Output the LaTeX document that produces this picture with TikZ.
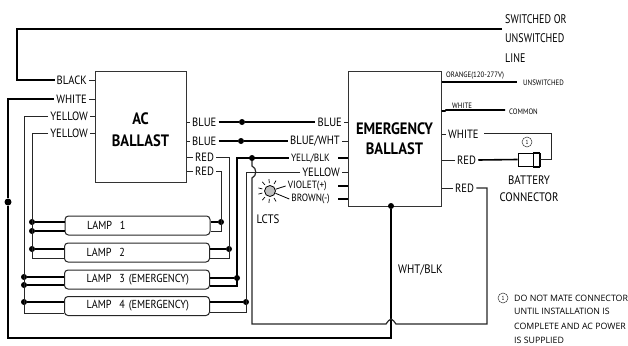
\documentclass[tikz,border=0pt]{standalone}
\usepackage{fontspec}
\setmainfont[FakeStretch=0.88]{PT Sans}
\newfontfamily\notefont{Open Sans}
\newfontfamily\tallfont[FakeStretch=0.8]{PT Sans}
\newcommand{\lampname}[1]{\hspace*{22pt}\raisebox{-1pt}{#1}}
\tikzset{
	heavy/.style={line width=1.6pt,black},
	light/.style={line width=1pt,black!85},
	ballast/.style={draw=black!80,line width=1pt,inner sep=0pt,align=center,font=\fontsize{16.5}{22}\selectfont\bfseries},
	lamp/.style={draw=black!85,line width=1pt,rounded corners=3.5pt,inner sep=0pt,minimum height=19pt,text width=145pt,font=\fontsize{11.6}{12}\selectfont},
	lbl/.style={inner xsep=2pt,inner ysep=0pt,font=\fontsize{12}{13}\selectfont},
	slim/.style={inner xsep=2pt,inner ysep=0pt,font=\fontsize{10.5}{12}\selectfont},
	small/.style={inner sep=0pt,font=\fontsize{7.8}{9}\selectfont},
	tag/.style={inner sep=0pt,font=\fontsize{12.3}{13}\selectfont},
	toptag/.style={inner sep=0pt,anchor=west,font=\fontsize{12.5}{13}\tallfont},
	note/.style={inner sep=0pt,anchor=west,font=\fontsize{8.8}{10}\notefont},
	dot/.style={circle,fill=black,inner sep=0pt,minimum size=6pt},
	ring/.style={circle,draw=black!80,line width=.5pt,inner sep=0pt,minimum size=10pt,font=\fontsize{6}{6}\selectfont}
}
\begin{document}
\begin{tikzpicture}[x=1pt,y=-1pt]
			\useasboundingbox (0,0) rectangle (628,345);
			\node[ballast,minimum width=91pt,minimum height=111pt] (acbal) at (140.5,126.5) {\rule{0pt}{18pt}AC\\BALLAST};
			\node[ballast,minimum width=93pt,minimum height=135pt] (embal) at (394.5,138.5) {EMERGENCY\\[-2pt]BALLAST};
			\node[lamp] (lamp1) at (137.5,225.5) {\lampname{LAMP\ \ 1}};
			\node[lamp] (lamp2) at (137,252.5) {\lampname{LAMP\ \ 2}};
			\node[lamp] (lamp3) at (137,279.5) {\lampname{LAMP\ \ 3 (EMERGENCY)}};
			\node[lamp] (lamp4) at (137,306) {\lampname{LAMP\ \ 4 (EMERGENCY)}};

			\node[lbl,anchor=east] (black) at (89,80) {BLACK};
			\node[lbl,anchor=east] (white) at (89,99) {WHITE};
			\node[lbl,anchor=east] (yellowa) at (90,116) {YELLOW};
			\node[lbl,anchor=east] (yellowb) at (90,133) {YELLOW};
			\node[lbl,anchor=west] (bluea) at (190,122) {BLUE};
			\node[lbl,anchor=west] (blueb) at (190,141) {BLUE};
			\node[lbl,anchor=west] (reda) at (193,157) {RED};
			\node[lbl,anchor=west] (redb) at (193,171) {RED};
			\node[lbl,anchor=east] (bluec) at (344,122) {BLUE};
			\node[lbl,anchor=east] (bluewht) at (342,141) {BLUE/WHT};
			\node[slim,anchor=east] (yellblk) at (332,158) {YELL/BLK};
			\node[lbl,anchor=east] (yellowc) at (342,172) {YELLOW};
			\node[slim,anchor=east] (violet) at (329,186) {VIOLET(+)};
			\node[slim,anchor=east] (brown) at (332,199) {BROWN(-)};
			\node[tag] (lcts) at (268,219) {LCTS};

			\node[small,anchor=west] (orange) at (446,76) {ORANGE(120-277V)};
			\node[small,anchor=west] (unsw) at (523,83) {UNSWITCHED};
			\node[small,anchor=west] (whitesm) at (452,106) {WHITE};
			\node[small,anchor=west] (common) at (509,112) {COMMON};
			\node[lbl,anchor=west] (whiteb) at (446,134) {WHITE};
			\node[lbl,anchor=west] (redc) at (455,160) {RED};
			\node[lbl,anchor=west] (redd) at (453,188) {RED};
			\node[toptag] (swa) at (505,19) {SWITCHED OR};
			\node[toptag] (swb) at (505,38) {UNSWITCHED};
			\node[toptag] (swc) at (505,58) {LINE};
			\node[tag] (batt) at (529,180) {BATTERY};
			\node[tag] (conn) at (529,197) {CONNECTOR};
			\node[tag,anchor=west] (whtblk) at (398,270) {WHT/BLK};

			\node[ring] (ringa) at (527,142) {1};
			\node[ring] (ringb) at (503,298) {1};
			\node[note] (notea) at (514,298) {DO NOT MATE CONNECTOR};
			\node[note] (noteb) at (514,311) {UNTIL INSTALLATION IS};
			\node[note] (notec) at (514,326) {COMPLETE AND AC POWER};
			\node[note] (noted) at (514,340) {IS SUPPLIED};

			\node[draw=black,line width=1pt,inner sep=0pt,minimum width=22pt,minimum height=13pt] (plug) at (529,159.5) {};
			\node[draw=black,line width=1pt,inner sep=0pt,minimum width=6.5pt,minimum height=15pt] (plugend) at (536.7,159.5) {};
			\node[circle,draw=black,fill=black!25,line width=.8pt,inner sep=0pt,minimum size=11pt] (led) at (270,191) {};

			\foreach \n in {black,white,yellowa,yellowb}{
				\draw [light] (\n.east)--(acbal.west |- \n);
			}
			\foreach \n in {bluea,blueb,reda,redb}{
				\draw [light] (\n.west)--(acbal.east |- \n);
			}
			\foreach \n in {bluec,bluewht,yellowc}{
				\draw [light] (\n.east)--(embal.west |- \n);
			}
			\foreach \n in {whiteb,redc,redd}{
				\draw [light] (\n.west)--(embal.east |- \n);
			}
			\foreach \y in {158,186,199}{
				\draw [heavy] (338,\y)--(embal.west |- 338,\y);
			}
			\foreach \a in {60,95,130,165,195,230,265,300}{
				\draw [line width=.7pt] ([shift={(\a:8)}]led.center)--([shift={(\a:12)}]led.center);
			}

			\coordinate (toptip) at (502,29);
			\draw [heavy] (toptip)-|(17,80)--(black.west);
			\node[dot,minimum size=7pt] (jwhite) at (8,202) {};
			\node[dot] (jemb) at (391,206) {};
			\draw [heavy] (white.west)-|(jwhite)|-(391,338)--(jemb);

			\node[dot] (ja) at (32,222) {};
			\node[dot] (jb) at (32,231) {};
			\node[dot] (jc) at (32,249) {};
			\node[dot] (jd) at (24,277) {};
			\node[dot] (je) at (24,285) {};
			\node[dot] (jf) at (24,302) {};
			\draw [light] (yellowa.west)-|(24,313)--(lamp4.west |- 24,313);
			\draw [light] (yellowb.west)-|(32,258)--(lamp2.west |- 32,258);
			\foreach \j/\m in {ja/lamp1,jc/lamp2,jd/lamp3,je/lamp3,jf/lamp4}{
				\draw [heavy] (\j)--(\m.west |- \j);
			}
			\draw [line width=1.3pt] (jb)--(lamp1.west |- jb);

			\node[dot] (jg) at (221,222) {};
			\node[dot] (jh) at (229,249) {};
			\node[dot] (ji) at (237,278) {};
			\node[dot] (jj) at (246,302) {};
			\foreach \j/\m in {jg/lamp1,jh/lamp2,ji/lamp3,jj/lamp4}{
				\draw [heavy] (\m.east |- \j)--(\j);
			}
			\draw [light] (redb.east)-|(221,231)--(lamp1.east |- 221,231);
			\draw [light] (reda.east)-|(229,258)--(lamp2.east |- 229,258);
			\draw [light] (yellowc.west)-|(246,312)--(lamp4.east |- 246,312);
			\draw [heavy] (yellblk.west)-|(237,286)--(lamp3.east |- 237,286);

			\node[dot] (jbluea) at (242,122) {};
			\node[dot] (jblueb) at (241,141) {};
			\node[dot] (jyell) at (252,158) {};
			\draw [heavy] (bluea.east)--(jbluea)--(bluec.west);
			\draw [heavy] (blueb.east)--(jblueb)--(bluewht.west);
			\draw [light,line width=1.2pt] (jyell)--(252,166) .. controls (257,168) and (257,176) .. (252,178)--(252,324)--(386,324) .. controls (388,322) and (389,319) .. (391,319) .. controls (393,319) and (394,322) .. (396,324)-|(487,188)--(redd.east);

			\draw [heavy] (embal.east |- 441,82)--(517,82);
			\draw [heavy] (embal.east |- 441,111)--(445,111)--(446,110)--(505,110);
			\draw [heavy] (redc.east)--(plug.west);
			\draw [light] (484,133)--(551,133)--(551,159.5)--(plugend.east);
			\draw [line width=.8pt] (led)--(violet.west);
			\draw [line width=.8pt] (led)--(brown.west);
			\end{tikzpicture}
\end{document}
